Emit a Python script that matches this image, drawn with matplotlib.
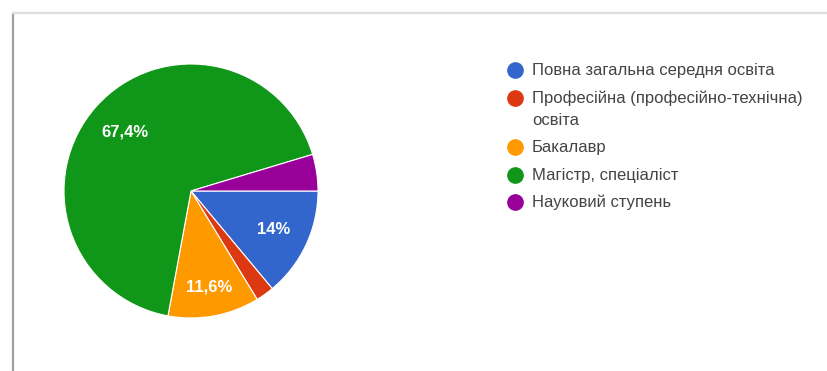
import numpy as np
import matplotlib.pyplot as plt
from matplotlib.lines import Line2D

# частки відповідей (43 респонденти)
labels = ['Повна загальна середня освіта',
          'Професійна (професійно-технічна)\nосвіта',
          'Бакалавр',
          'Магістр, спеціаліст',
          'Науковий ступень']
counts = [6, 1, 5, 29, 2]
pct_text = ['14%', '', '11,6%', '67,4%', '']
colors = ['#3366cc', '#dc3912', '#ff9900', '#109618', '#990099']

plt.rcParams['font.family'] = ['Liberation Sans', 'DejaVu Sans']

W, H = 828, 371
fig = plt.figure(figsize=(W / 100, H / 100), dpi=100)
fig.patch.set_facecolor('white')

# рамка скриншота
fig.add_artist(Line2D([13 / W, 13 / W], [0, 1 - 13 / H], color='#a0a0a0', lw=1.6))
fig.add_artist(Line2D([13 / W, 1], [1 - 13 / H, 1 - 13 / H], color='#dedede', lw=1.6))

# кругова діаграма: центр (191, 191), радіус 127 px
cx, cy, r = 191, 191, 127
ax = fig.add_axes([(cx - r) / W, (H - cy - r) / H, 2 * r / W, 2 * r / H])
wedges, _ = ax.pie(counts, colors=colors, startangle=0, counterclock=False,
                   wedgeprops=dict(edgecolor='white', linewidth=0.8))
ax.set_xlim(-1, 1)
ax.set_ylim(-1, 1)

# підписи відсотків
dist = {'14%': 0.715, '11,6%': 0.77, '67,4%': 0.70}
for w, t in zip(wedges, pct_text):
    if not t:
        continue
    ang = np.deg2rad((w.theta1 + w.theta2) / 2)
    d = dist[t]
    ax.text(d * np.cos(ang), d * np.sin(ang), t, color='white', fontsize=12,
            fontweight='bold', ha='center', va='center')

# легенда (перенесені рядки малюються окремо, крок 22 px)
ys = [70, 98, 147, 175, 202]
for y, lab, c in zip(ys, labels, colors):
    fig.add_artist(Line2D([515 / W], [1 - y / H], marker='o', markersize=11,
                          color=c, linestyle='none'))
    for i, line in enumerate(lab.split('\n')):
        fig.text(532 / W, 1 - (y + 5 + 22 * i) / H, line, color='#444444',
                 fontsize=12, ha='left', va='baseline')

fig.savefig('out.png', dpi=100)
